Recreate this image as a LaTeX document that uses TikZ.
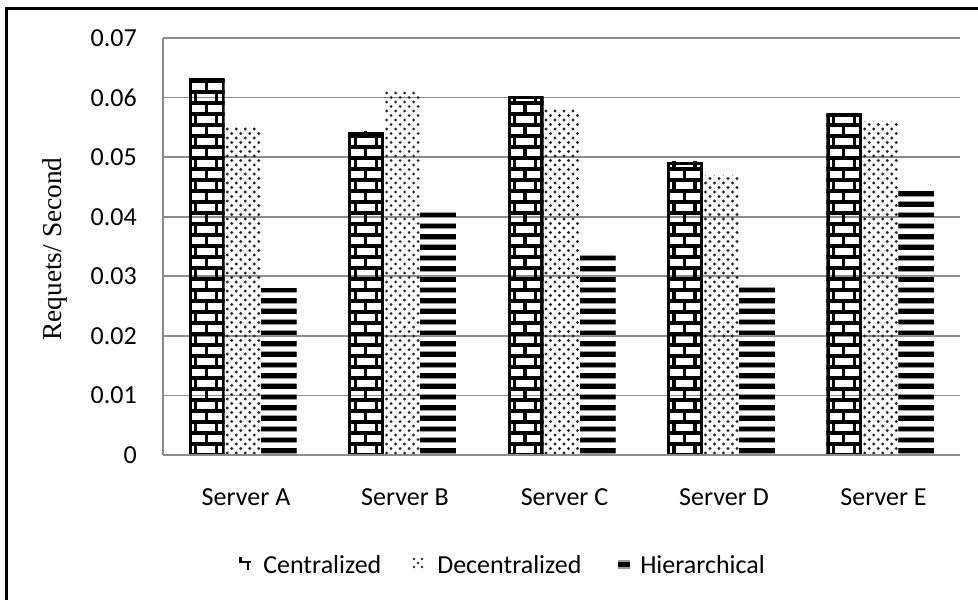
\documentclass[tikz,border=0pt]{standalone}
\usepackage{fontspec}
\setmainfont{Carlito}
\newfontfamily\timesf{Liberation Serif}
\begin{document}
\begin{tikzpicture}[x=0.75pt,y=-0.75pt,
  grid/.style={draw=black!45,line width=1.2pt},
  frameline/.style={draw=black,line width=1.6pt},
  ticklab/.style={anchor=east,inner sep=0pt,font=\fontsize{19.5}{22}\selectfont},
  catlab/.style={anchor=center,inner sep=0pt,font=\fontsize{19.5}{22}\selectfont},
  leglab/.style={anchor=west,inner sep=0pt,font=\fontsize{19.5}{22}\selectfont},
  brickline/.style={draw=black,line width=2.4pt},
  dotfill/.style={fill=black!85},
  stripe/.style={fill=black}]
\useasboundingbox (0,0) rectangle (978,600);
\fill[white] (0,0) rectangle (978,600);
% outer frame (only top and left visible)
\draw[frameline] (6.5,600) -- (6.5,8.5) -- (978,8.5);
% gridlines
\foreach \v in {1,...,7}{
  \draw[grid] (163,{455-\v*59.57}) -- (960,{455-\v*59.57});
}
\draw[grid] (163,38) -- (163,455);
% tick labels
\foreach \v/\t in {0/0,1/0.01,2/0.02,3/0.03,4/0.04,5/0.05,6/0.06,7/0.07}{
  \node[ticklab] (t\v) at (137,{455-\v*59.57}) {\t};
}
% axis title
\node[rotate=90,inner sep=0pt,font=\timesf\fontsize{20.5}{22}\selectfont] (ylab) at (55,249) {Requets/ Second};
% bars
\newcommand{\brickbar}[2]{%
  \pgfmathsetmacro{\ytop}{455-#2*5957}%
  \begin{scope}
    \clip (#1,455) rectangle ({#1+36},{\ytop-1.5});
    \draw[brickline] ({#1+1.6},455) -- ({#1+1.6},\ytop);
    \draw[brickline] ({#1+34.4},455) -- ({#1+34.4},\ytop);
    \foreach \r in {0,...,40}{
      \pgfmathsetmacro{\yy}{455-\r*11}
      \draw[brickline] (#1,\yy) -- ({#1+36},\yy);
      \ifodd\r
        \draw[brickline] ({#1+17.5},\yy) -- ({#1+17.5},{\yy-11});
      \else
        \draw[brickline] ({#1+7},\yy) -- ({#1+7},{\yy-11});
        \draw[brickline] ({#1+28},\yy) -- ({#1+28},{\yy-11});
      \fi
    }
    \draw[brickline] (#1,\ytop) -- ({#1+36},\ytop);
  \end{scope}}
\newcommand{\dotbar}[2]{%
  \pgfmathsetmacro{\ytop}{455-#2*5957}%
  \begin{scope}
    \clip (#1,455) rectangle ({#1+36},\ytop);
    \foreach \r in {0,...,90}{
      \pgfmathsetmacro{\yy}{453-\r*4.5}
      \pgfmathsetmacro{\xo}{mod(\r,2)*4.5+2.5}
      \foreach \c in {0,...,4}{
        \fill[dotfill] ({#1+\xo+\c*9},\yy) circle (1.6);
      }
    }
  \end{scope}}
\newcommand{\stripebar}[2]{%
  \pgfmathsetmacro{\ytop}{455-#2*5957}%
  \begin{scope}
    \clip (#1,455) rectangle ({#1+36},\ytop);
    \foreach \r in {0,...,40}{
      \pgfmathsetmacro{\yy}{454-\r*10.7}
      \fill[black!40] (#1,{\yy-0.5}) rectangle ({#1+36},{\yy-6.5});
      \fill[stripe] (#1,{\yy-1.2}) rectangle ({#1+36},{\yy-5.8});
    }
  \end{scope}}
\foreach \i/\a/\b/\c in {0/0.063/0.055/0.028,1/0.054/0.061/0.041,2/0.060/0.058/0.034,3/0.049/0.047/0.0285,4/0.057/0.056/0.045}{
  \pgfmathsetmacro{\cx}{163+159.4*(\i+0.5)}
  \brickbar{\cx-54}{\a}
  \dotbar{\cx-18}{\b}
  \stripebar{\cx+18}{\c}
}
\draw[grid] (163,455) -- (960,455);
% category labels
\node[catlab] (sa) at (246,497) {Server A};
\node[catlab] (sb) at (405,497) {Server B};
\node[catlab] (sc) at (564.5,497) {Server C};
\node[catlab] (sd) at (724,497) {Server D};
\node[catlab] (se) at (883.5,497) {Server E};
% legend
\begin{scope}
  \draw[brickline,line width=1.8pt] (239,562) -- (251,562);
  \draw[brickline,line width=1.8pt] (240.5,557) -- (240.5,562);
  \draw[brickline,line width=1.8pt] (248,562) -- (248,570);
\end{scope}
\node[leglab] (lc) at (263,565) {Centralized};
\begin{scope}
  \foreach \px/\py in {414/559,422/559,418/563,414/567,422/567}{
    \fill[dotfill] (\px,\py) circle (1.3);
  }
\end{scope}
\node[leglab] (ld) at (437,565) {Decentralized};
\fill[black!40] (618,560) rectangle (630,569);
\fill[black] (618,562) rectangle (630,567);
\node[leglab] (lh) at (640,565) {Hierarchical};
\end{tikzpicture}
\end{document}
